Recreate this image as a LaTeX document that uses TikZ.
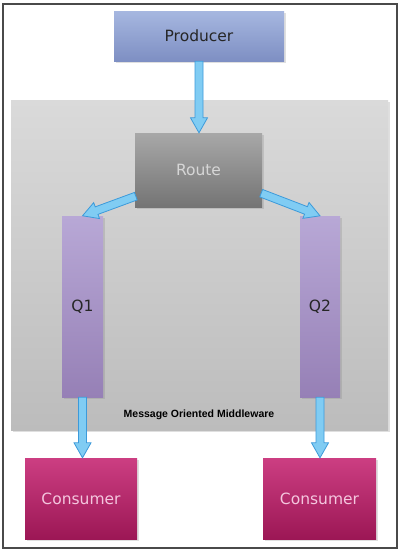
\documentclass[tikz,border=0pt]{standalone}
\usepackage{fontspec}
\setmainfont{DejaVu Sans}
\newfontfamily\arialfont{Liberation Sans}
\usetikzlibrary{calc,shadows}
\definecolor{prodtop}{HTML}{A6B7E0}
\definecolor{prodbot}{HTML}{7E8FC3}
\definecolor{momtop}{HTML}{DADADA}
\definecolor{mombot}{HTML}{BCBCBC}
\definecolor{routetop}{HTML}{A8A8A8}
\definecolor{routebot}{HTML}{747474}
\definecolor{routetext}{HTML}{D6D6D6}
\definecolor{qtop}{HTML}{B8A8D6}
\definecolor{qbot}{HTML}{9680B6}
\definecolor{constop}{HTML}{CC3E82}
\definecolor{consbot}{HTML}{9C1755}
\definecolor{constext}{HTML}{F4C6DE}
\definecolor{arrfill}{HTML}{80CCF3}
\definecolor{arrline}{HTML}{3C9ADA}
\definecolor{framecol}{HTML}{4A4A4A}
\tikzset{
  box/.style={rectangle, inner sep=0pt, font=\fontsize{15.5}{18}\selectfont,
    drop shadow={opacity=0.25, shadow xshift=1.5pt, shadow yshift=-1.5pt}},
  prodbox/.style={box, top color=prodtop, bottom color=prodbot, text=black!85},
  mombox/.style={box, top color=momtop, bottom color=mombot},
  routebox/.style={box, top color=routetop, bottom color=routebot, text=routetext},
  qbox/.style={box, top color=qtop, bottom color=qbot, text=black!85},
  consbox/.style={box, top color=constop, bottom color=consbot, text=constext},
  fatarr/.style={fill=arrfill, draw=arrline, line width=0.8pt, line join=miter},
  momlabel/.style={font=\arialfont\bfseries\fontsize{10.5}{12}\selectfont, text=black}
}
\newcommand\fatarrow[2]{%
  \path let \p1=(#1), \p2=(#2),
    \n1={atan2(\y2-\y1,\x2-\x1)}, \n2={veclen(\x2-\x1,\y2-\y1)} in
    \pgfextra{\xdef\arrang{\n1}\xdef\arrlen{\n2}\xdef\arrx{\x1}\xdef\arry{\y1}};
  \begin{scope}[shift={(\arrx,\arry)}, rotate=\arrang]
    \draw[fatarr] (0pt,-4pt) -- (\arrlen-15pt,-4pt) -- (\arrlen-15pt,-8.5pt)
      -- (\arrlen,0pt) -- (\arrlen-15pt,8.5pt) -- (\arrlen-15pt,4pt) -- (0pt,4pt) -- cycle;
  \end{scope}}
\begin{document}
\begin{tikzpicture}[x=1pt,y=-1pt]
  \useasboundingbox[fill=white] (0,0) rectangle (404,554);
  \draw[framecol, line width=1.3pt] (3,4) rectangle (397,548);
  \node[mombox, minimum width=377pt, minimum height=330pt] (mom) at (199.5,265) {};
  \node[momlabel] (momtext) at (199,415) {Message Oriented Middleware};
  \node[prodbox, minimum width=170pt, minimum height=50pt] (prod) at (199,36) {Producer};
  \node[routebox, minimum width=127pt, minimum height=74pt] (route) at (198.5,170) {Route};
  \node[qbox, minimum width=41pt, minimum height=181pt] (q1) at (82.5,306.5) {Q1};
  \node[qbox, minimum width=40pt, minimum height=181pt] (q2) at (320,306.5) {Q2};
  \node[consbox, minimum width=112pt, minimum height=81pt] (c1) at (81,498.5) {Consumer};
  \node[consbox, minimum width=113pt, minimum height=81pt] (c2) at (319.5,498.5) {Consumer};
  \coordinate (a1s) at ($(route.south west)+(1,-11)$);
  \coordinate (a2s) at ($(route.south east)+(-1,-14)$);
  \coordinate (c1top) at (q1.south |- c1.north);
  \coordinate (c2top) at (q2.south |- c2.north);
  \coordinate (rtop) at (prod.south |- route.north);
  \fatarrow{prod.south}{rtop}
  \fatarrow{a1s}{q1.north}
  \fatarrow{a2s}{q2.north}
  \fatarrow{q1.south}{c1top}
  \fatarrow{q2.south}{c2top}
\end{tikzpicture}
\end{document}
